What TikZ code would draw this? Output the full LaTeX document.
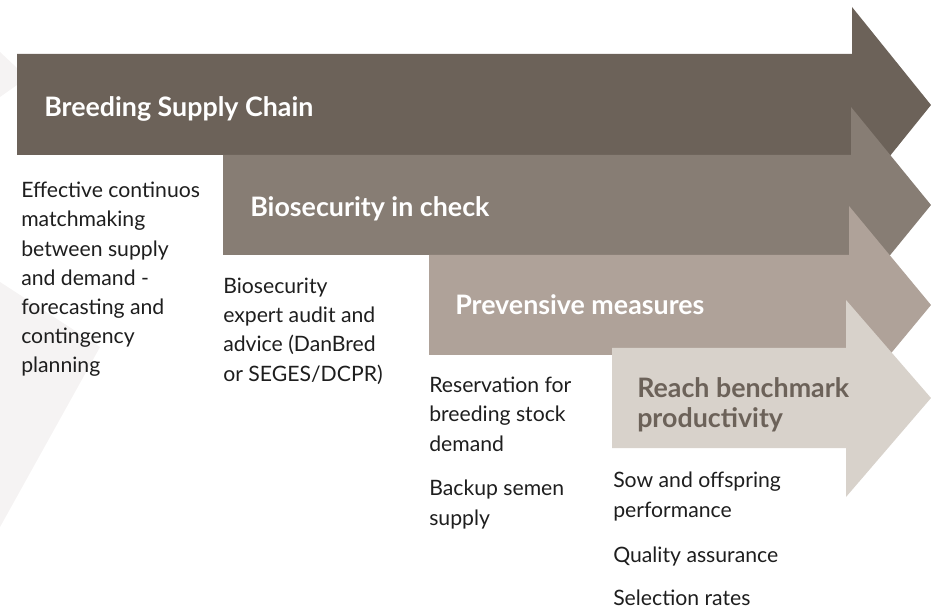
\documentclass[tikz,border=0pt]{standalone}
\usepackage{fontspec}
\setmainfont{Lato}
\usetikzlibrary{positioning,calc}
\definecolor{stepone}{RGB}{108,98,89}
\definecolor{steptwo}{RGB}{135,125,116}
\definecolor{stepthree}{RGB}{175,162,153}
\definecolor{stepfour}{RGB}{216,210,203}
\definecolor{faintgrey}{RGB}{245,243,243}
\definecolor{bodytext}{RGB}{30,30,30}
\newcommand{\bodyfont}{\fontsize{15.9}{21.9}\selectfont}
\newcommand{\headfont}{\fontsize{20.1}{22.5}\selectfont\bfseries}

\begin{document}
\begin{tikzpicture}[x=0.75pt,y=-0.75pt,
    head/.style={font=\headfont, text=white, anchor=base west, inner sep=0pt, align=left},
    body/.style={font=\bodyfont, text=bodytext, anchor=base west, inner sep=0pt, align=left}]
    \useasboundingbox (0,0) rectangle (931,609);

    % faint shapes behind the arrows
    \fill[faintgrey] (0,52) -- (17,68) -- (17,85) -- (0,97) -- cycle;
    \fill[faintgrey] (0,282) -- (100,347) -- (0,527) -- cycle;

    % the four steps
    \fill[stepone] (17,54) -- (852,54) -- (852,7) -- (931,105) -- (852,203) -- (852,155) -- (17,155) -- cycle;
    \fill[steptwo] (223,155) -- (851,155) -- (851,107) -- (931,205) -- (851,303) -- (851,255) -- (223,255) -- cycle;
    \fill[stepthree] (429,255) -- (849,255) -- (849,206) -- (931,305) -- (849,404) -- (849,355) -- (429,355) -- cycle;
    \fill[stepfour] (612,348) -- (846,348) -- (846,300) -- (931,398) -- (846,497) -- (846,448) -- (612,448) -- cycle;

    % titles (base = last line)
    \node[head] (chain) at (44,117) {Breeding Supply Chain};
    \node[head] (biosec) at (250,217) {Biosecurity in check};
    \node[head] (prevent) at (455,315) {Prevensive measures};
    \node[head, text=stepone] (bench) at (637,427) {Reach benchmark\\productivity};

    % notes under each step
    \node[body] (matchmaking) at (21,373) {Effective continuos\\matchmaking\\between supply\\and demand -\\forecasting and\\contingency\\planning};
    \node[body] (audit) at (223,381) {Biosecurity\\expert audit and\\advice (DanBred\\or SEGES/DCPR)};
    \node[body] (reservation) at (429,451) {Reservation for\\breeding stock\\demand};
    \node[body] (semen) at (429,525) {Backup semen\\supply};
    \node[body] (performance) at (613,517) {Sow and offspring\\performance};
    \node[body] (quality) at (613,562) {Quality assurance};
    \node[body] (selection) at (613,605) {Selection rates};
\end{tikzpicture}
\end{document}
